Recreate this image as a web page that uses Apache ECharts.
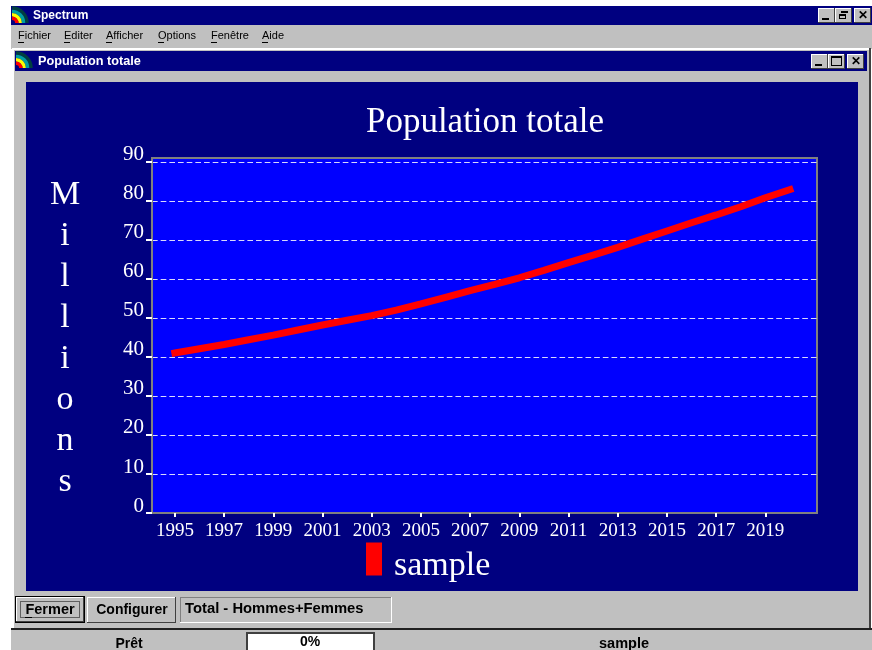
<!DOCTYPE html>
<html>
<head>
<meta charset="utf-8">
<title>Population totale</title>
<style>
html, body { margin: 0; padding: 0; background: #fff; }
#main { width: 872px; height: 650px; }
</style>
<script src="https://cdn.jsdelivr.net/npm/echarts@6/dist/echarts.min.js"></script>
</head>
<body>
<div id="main"></div>
<script>
// values (millions)
var years = [1995, 1996, 1997, 1998, 1999, 2000, 2001, 2002, 2003, 2004, 2005, 2006, 2007,
  2008, 2009, 2010, 2011, 2012, 2013, 2014, 2015, 2016, 2017, 2018, 2019, 2020];
var population = [41, 42.1, 43.2, 44.4, 45.6, 46.9, 48.2, 49.4, 50.6, 52, 53.6, 55.3, 57,
  58.6, 60.3, 62.2, 64.2, 66.1, 68.1, 70.2, 72.3, 74.4, 76.4, 78.5, 80.8, 82.9];
var xTicks = [1995, 1997, 1999, 2001, 2003, 2005, 2007, 2009, 2011, 2013, 2015, 2017, 2019];
var yTicks = [0, 10, 20, 30, 40, 50, 60, 70, 80, 90];
var menuItems = [['Fichier', 18], ['Editer', 64], ['Afficher', 106], ['Options', 158], ['Fenêtre', 211], ['Aide', 262]];

var GRAY = '#c0c0c0', NAVY = '#000080', UI_FONT = '"Liberation Sans", Arial, sans-serif', SERIF = '"Liberation Serif", "Times New Roman", serif';

var chrome = [];
function box(x, y, w, h, fill) {
  chrome.push({ type: 'rect', z: -5, silent: true, shape: { x: x, y: y, width: w, height: h }, style: { fill: fill } });
}
function bevel(x, y, w, h, fill, raised) {
  var a = raised ? '#ffffff' : '#808080', b = raised ? '#404040' : '#ffffff';
  box(x, y, w, h, b);
  box(x, y, w - 1, h - 1, a);
  box(x + 1, y + 1, w - 2, h - 2, fill);
}
function label(str, x, y, size, bold, color, align) {
  chrome.push({ type: 'text', z: -4, silent: true, x: x, y: y, style: {
    text: str, fill: color || '#000', align: align || 'left', verticalAlign: 'middle',
    font: (bold ? 'bold ' : '') + size + 'px ' + UI_FONT } });
}
// little rainbow icon of the title bars, centre at its bottom left
function rainbow(x, y) {
  var colors = ['#004040', '#00a0a0', '#ffff00', '#ff0000'];
  colors.forEach(function (c, i) {
    chrome.push({ type: 'arc', z: -4, silent: true,
      shape: { cx: x, cy: y + 15, r: 15 - i * 3.4, startAngle: -Math.PI / 2, endAngle: 0, clockwise: true },
      style: { stroke: c, lineWidth: 3.4, fill: null } });
  });
}
function winButtons(x, y, kind) {
  bevel(x, y, 17, 15, GRAY, true);
  box(x + 4, y + 10, 7, 2, '#000');
  bevel(x + 17, y, 17, 15, GRAY, true);
  if (kind === 'main') {
    box(x + 23, y + 3, 7, 2, '#000');
    box(x + 21, y + 6, 7, 5, '#000');
    box(x + 22, y + 8, 5, 2, GRAY);
  } else {
    box(x + 20, y + 2, 11, 10, '#000');
    box(x + 21, y + 4, 9, 7, GRAY);
  }
  bevel(x + 36, y, 17, 15, GRAY, true);
  label('✕', x + 44.5, y + 7.5, 12, true, '#000', 'center');
}

// application frame
box(11, 6, 861, 19, NAVY);
rainbow(12, 8);
label('Spectrum', 33, 16, 12, true, '#fff');
winButtons(818, 8, 'main');
box(11, 25, 861, 24, GRAY);
menuItems.forEach(function (m) {
  label(m[0], m[1], 36, 11, false, '#000');
  box(m[1], 42, 6, 1, '#000');
});
// child window
box(12, 48, 859, 581, GRAY);
box(12, 48, 859, 2, '#ffffff');
box(12, 48, 2, 581, '#ffffff');
box(869, 48, 2, 581, '#404040');
box(15, 51, 852, 20, NAVY);
rainbow(16, 53);
label('Population totale', 38, 61, 12.7, true, '#fff');
winButtons(811, 54, 'child');
box(26, 82, 832, 509, NAVY);
// bottom buttons
box(15, 596, 70, 27, '#000');
bevel(16, 597, 68, 25, GRAY, true);
chrome.push({ type: 'rect', z: -4, silent: true, shape: { x: 20.5, y: 601.5, width: 59, height: 16 },
  style: { fill: null, stroke: '#000', lineWidth: 1, lineDash: [1, 1] } });
label('Fermer', 50, 610, 14.5, true, '#000', 'center');
box(25, 617, 7, 1, '#000');
bevel(87, 597, 89, 26, GRAY, true);
label('Configurer', 132, 610, 14, true, '#000', 'center');
bevel(180, 597, 212, 26, GRAY, false);
label('Total - Hommes+Femmes', 185, 609, 14.8, true, '#000');
// status bar
box(11, 629, 861, 21, GRAY);
box(11, 628, 861, 2, '#202020');
box(12, 631, 233, 19, GRAY);
label('Prêt', 129, 644, 14, true, '#000', 'center');
box(246, 632, 129, 18, '#404040');
box(248, 634, 125, 16, '#ffffff');
label('0%', 310, 642, 14, true, '#000', 'center');
label('sample', 624, 644, 14.5, true, '#000', 'center');
// vertical axis title, one letter per line
chrome.push({ type: 'text', z: 3, silent: true, x: 65, y: 339, style: {
  text: 'M\ni\nl\nl\ni\no\nn\ns', fill: '#fff', align: 'center', verticalAlign: 'middle',
  font: '34px ' + SERIF, lineHeight: 41 } });

var chart = echarts.init(document.getElementById('main'), null, { renderer: 'canvas' });
chart.setOption({
  animation: false,
  backgroundColor: '#ffffff',
  graphic: { elements: chrome },
  title: {
    text: 'Population totale', left: 480, top: 100, textAlign: 'center',
    textStyle: { color: '#fff', fontFamily: SERIF, fontSize: 35, fontWeight: 'normal' }
  },
  legend: {
    left: 361, top: 530, icon: 'rect', itemWidth: 16, itemHeight: 33, itemGap: 12,
    data: [{ name: 'sample', itemStyle: { color: '#ff0000' } }],
    formatter: '{gap|}\n{s|{name}}',
    textStyle: {
      color: '#fff', fontFamily: SERIF, fontSize: 34, padding: [0, 0, 0, 7],
      rich: {
        gap: { height: 14, lineHeight: 14, fontSize: 1 },
        s: { color: '#fff', fontFamily: SERIF, fontSize: 34 }
      }
    }
  },
  grid: {
    left: 152, right: 55, top: 158, bottom: 137, show: true,
    backgroundColor: '#0000ff', borderColor: '#808080', borderWidth: 2
  },
  xAxis: {
    type: 'value', min: 1994.07, max: 2021.1,
    splitLine: { show: false },
    axisLine: { lineStyle: { color: '#808080', width: 2 } },
    axisTick: { length: 4, lineStyle: { color: '#fff', width: 2 }, customValues: xTicks },
    axisLabel: {
      customValues: xTicks, margin: 9, color: '#fff', fontFamily: SERIF, fontSize: 19,
      formatter: function (v) { return String(v); }
    }
  },
  yAxis: {
    type: 'value', min: 0, max: 91, interval: 10,
    axisLine: { lineStyle: { color: '#808080', width: 2 } },
    axisTick: { length: 6, lineStyle: { color: '#fff', width: 2 }, customValues: yTicks },
    axisLabel: {
      customValues: yTicks, margin: 8, color: '#fff', fontFamily: SERIF, fontSize: 21,
      verticalAlign: 'bottom', lineHeight: 14
    },
    splitLine: { show: true, showMinLine: false, showMaxLine: true,
      lineStyle: { color: '#d8d8ff', width: 1, type: [5.67, 3] } }
  },
  series: [{
    name: 'sample', type: 'line', showSymbol: false, silent: true,
    lineStyle: { color: '#ff0000', width: 7, cap: 'square' },
    itemStyle: { color: '#ff0000' },
    data: years.map(function (y, i) { return [y, population[i]]; })
  }]
});
</script>
</body>
</html>
